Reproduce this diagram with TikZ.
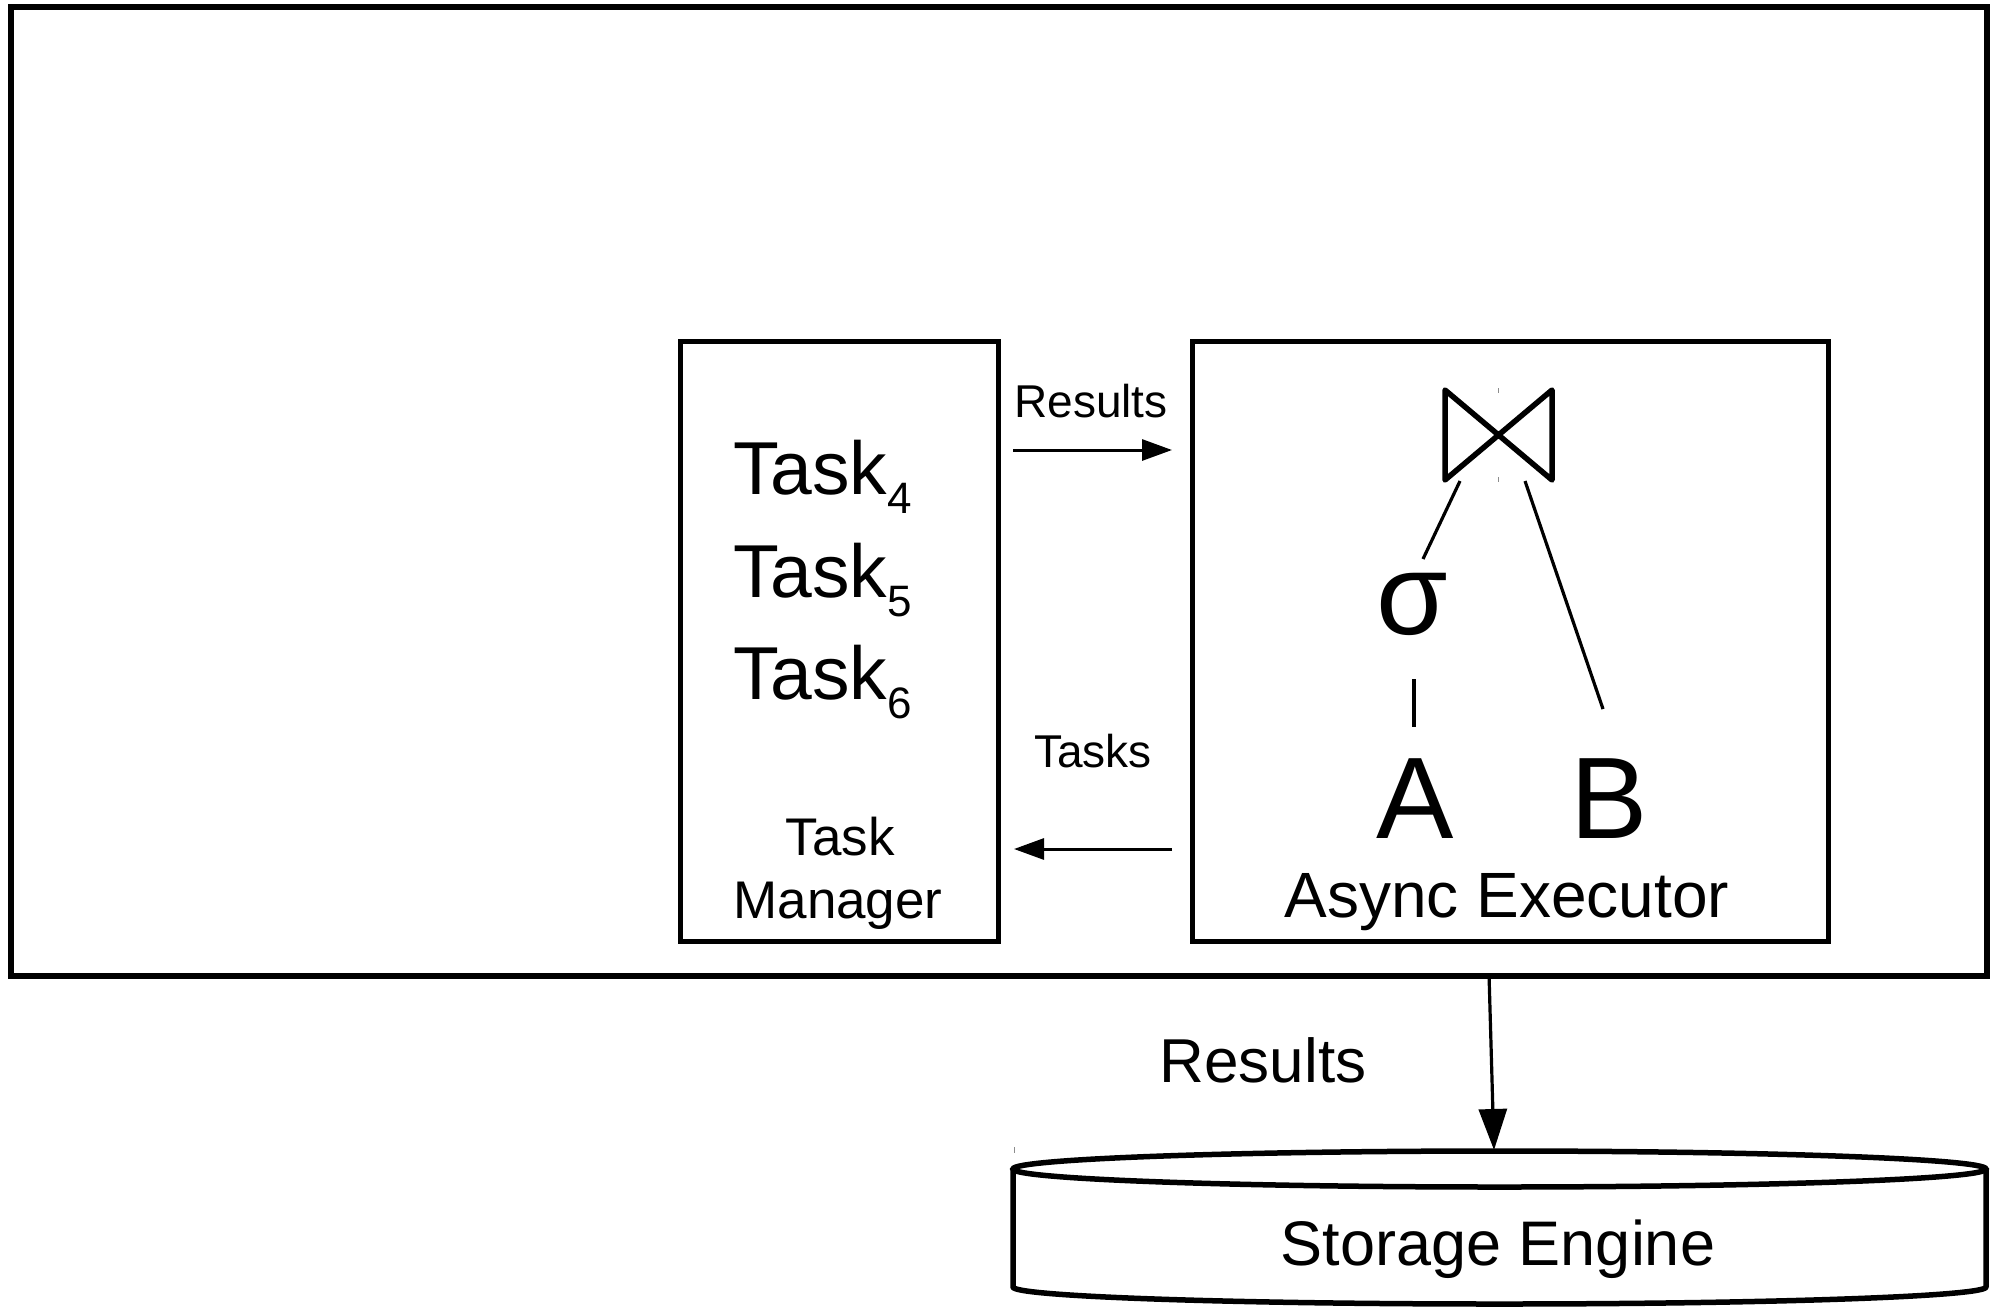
\documentclass[tikz,border=0pt]{standalone}
\usepackage{fontspec}
\setmainfont{Liberation Sans}
\usetikzlibrary{arrows.meta}

% font size helper (size in pt, baseline skip in pt)
\newcommand\setfs[2]{\fontsize{#1}{#2}\selectfont}
% lowered index after a task name
\newcommand\tasksub[1]{\raisebox{-19pt}{\setfs{44}{46}#1}}

\tikzset{
  frame/.style={draw, line width=6pt, inner sep=0pt, anchor=north west},
  panel/.style={draw, line width=4.5pt, inner sep=0pt, anchor=north west},
  lbl/.style={inner sep=0pt, anchor=base},
  flow/.style={line width=3pt, -{Triangle[length=30pt,width=21pt]}},
  bigflow/.style={line width=3.2pt, -{Triangle[length=41pt,width=28pt]}},
  treeedge/.style={line width=3.2pt},
  joinsym/.style={line width=5.5pt, line join=round},
  speck/.style={line width=1pt, black!45},
}

\begin{document}
\begin{tikzpicture}[x=1pt, y=-1pt]
\useasboundingbox (0,0) rectangle (2005,1307);

% ---- containers ----
\node[frame, minimum width=1976.5pt, minimum height=969pt] (engine) at (7.5,4) {};
\node[panel, minimum width=318pt, minimum height=600pt] (tm) at (678,339) {};
\node[panel, minimum width=636pt, minimum height=600pt] (exec) at (1190,339) {};

% ---- task manager contents ----
\node[lbl, anchor=base west] (t4) at (733,494) {\setfs{75}{80}Task\tasksub{4}};
\node[lbl, anchor=base west] (t5) at (733,597) {\setfs{75}{80}Task\tasksub{5}};
\node[lbl, anchor=base west] (t6) at (733,699) {\setfs{75}{80}Task\tasksub{6}};
\node[lbl, font=\setfs{53}{63}] (tmname1) at (840,855) {Task};
\node[lbl, font=\setfs{53}{63}] (tmname2) at (838,918) {Manager};

% ---- messages between manager and executor ----
\node[lbl, font=\setfs{46}{50}] (reslbl) at (1091,417) {Results};
\coordinate (res-from) at (1013,450);
\coordinate (res-to) at (1172,450);
\draw[flow] (res-from) -- (res-to);

\node[lbl, font=\setfs{46}{50}] (tasklbl) at (1093,767) {Tasks};
\coordinate (task-from) at (1172,849);
\coordinate (task-to) at (1014,849);
\draw[flow] (task-from) -- (task-to);

% ---- query plan inside the executor ----
\coordinate (bt-nw) at (1445,390);
\coordinate (bt-sw) at (1445,480);
\coordinate (bt-ne) at (1552,390);
\coordinate (bt-se) at (1552,480);
\draw[joinsym] (bt-nw) -- (bt-sw) -- (bt-ne) -- (bt-se) -- cycle;
\coordinate (tick1a) at (1498,388); \coordinate (tick1b) at (1498,393);
\coordinate (tick2a) at (1498,477); \coordinate (tick2b) at (1498,482);
\draw[speck] (tick1a) -- (tick1b);
\draw[speck] (tick2a) -- (tick2b);

\node[lbl, font=\setfs{116}{120}] (sel) at (1412,634) {σ};
\node[lbl, font=\setfs{116}{120}] (relA) at (1415,838) {A};
\node[lbl, font=\setfs{116}{120}] (relB) at (1609,838) {B};

\coordinate (join-l) at (1460,481);
\coordinate (sel-top) at (1423,559);
\coordinate (join-r) at (1525,481);
\coordinate (B-top) at (1603,709);
\coordinate (sel-bot) at (1414,679);
\coordinate (A-top) at (1414,727);
\draw[treeedge] (join-l) -- (sel-top);
\draw[treeedge] (join-r) -- (B-top);
\draw[treeedge] (sel-bot) -- (A-top);

\node[lbl, font=\setfs{64}{70}] (execname) at (1507,917) {Async Executor};

% ---- output to storage ----
\node[lbl, font=\setfs{62}{66}] (outlbl) at (1263,1082) {Results};
\coordinate (out-from) at (1489,974);
\coordinate (out-to) at (1494,1150);
\draw[bigflow] (out-from) -- (out-to);

% storage cylinder
\draw[line width=5.5pt] (1499.5,1169) ellipse [x radius=486.5, y radius=18];
\draw[line width=5.5pt, line join=round]
  (1013,1169) -- (1013,1287)
  .. controls (1013,1296.4) and (1230.8,1304) .. (1499.5,1304)
  .. controls (1768.2,1304) and (1986,1296.4) .. (1986,1287)
  -- (1986,1169);
\coordinate (speck3a) at (1014,1147); \coordinate (speck3b) at (1014,1153);
\draw[speck] (speck3a) -- (speck3b);
\node[lbl, font=\setfs{63}{66}] (store) at (1498,1265) {Storage Engine};
\end{tikzpicture}
\end{document}
